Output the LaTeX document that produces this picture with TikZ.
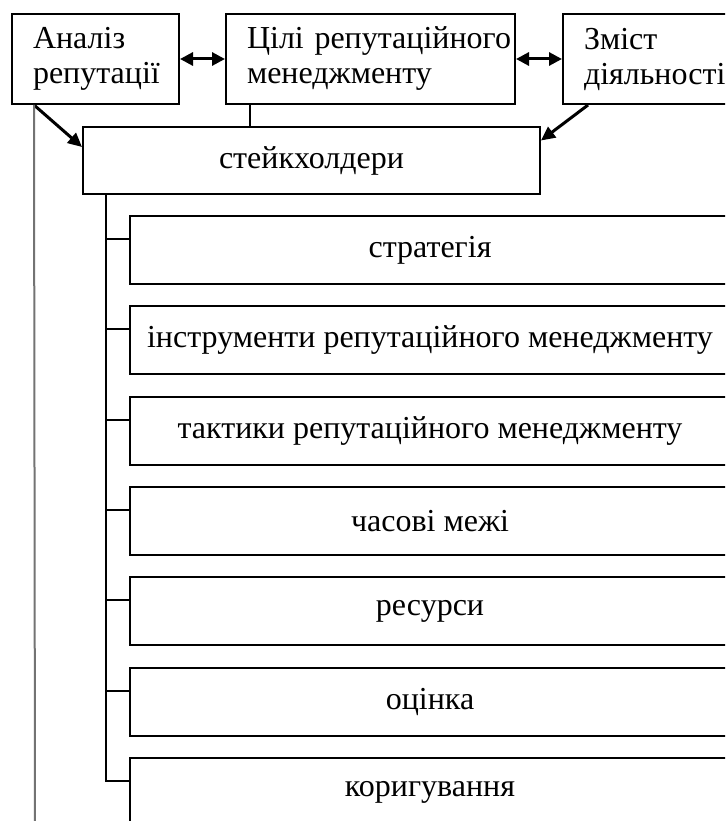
\documentclass[tikz,border=0pt]{standalone}
\usepackage{fontspec}
\setmainfont{Liberation Serif}
\usetikzlibrary{arrows.meta}

\begin{document}
\begin{tikzpicture}[x=1pt, y=-1pt,
    font=\fontsize{32}{35}\selectfont,
    box/.style={draw, line width=2pt, inner sep=0pt},
    topbox/.style={box, minimum height=90pt, align=left, inner xsep=21pt},
    listbox/.style={box, minimum width=600pt, minimum height=68pt},
    link/.style={line width=3pt, -{Triangle[length=14pt, width=13pt]}},
    twolink/.style={line width=3pt, {Triangle[length=13pt, width=13pt]}-{Triangle[length=13pt, width=13pt]}},
    tree/.style={line width=2pt}]
    \clip (0,0) rectangle (725,821);

    % top row
    \node[topbox, minimum width=167pt, text width=125pt] (analiz) at (95.5,59) {\mbox{Аналіз}\\\mbox{репутації}};
    \node[topbox, minimum width=289pt, text width=247pt] (tsili) at (370.5,59) {\mbox{Цілі репутаційного}\\\mbox{менеджменту}};
    \node[topbox, minimum width=200pt, text width=158pt] (zmist) at (663,59) {\mbox{Зміст}\\\mbox{діяльності}};

    \draw[twolink] (analiz) -- (tsili);
    \draw[twolink] (tsili) -- (zmist);

    \node[box, minimum width=457pt, minimum height=67pt] (stake) at (311.5,160.5) {стейкхолдери};

    \draw[tree] ([xshift=25pt]tsili.south west) -- ([xshift=25pt]tsili.south west |- stake.north);
    \draw[link] ([xshift=23pt]analiz.south west) -- ([yshift=13.5pt]stake.west);
    \draw[link] ([xshift=26pt]zmist.south west) -- ([yshift=20pt]stake.east);

    % long grey line on the left
    \coordinate (greyend) at (35,830);
    \draw[line width=2pt, black!55] ([xshift=23pt]analiz.south west) -- (greyend);

    % list of steps
    \foreach \txt [count=\i] in {стратегія, інструменти репутаційного менеджменту,
        тактики репутаційного менеджменту, часові межі, ресурси, оцінка, коригування}{
        \node[listbox] (step\i) at (430,{250+90.33*(\i-1)}) {\txt};
        \draw[tree] ([yshift=11pt]step\i.west) -| ([xshift=24pt]stake.south west);
    }
\end{tikzpicture}
\end{document}
